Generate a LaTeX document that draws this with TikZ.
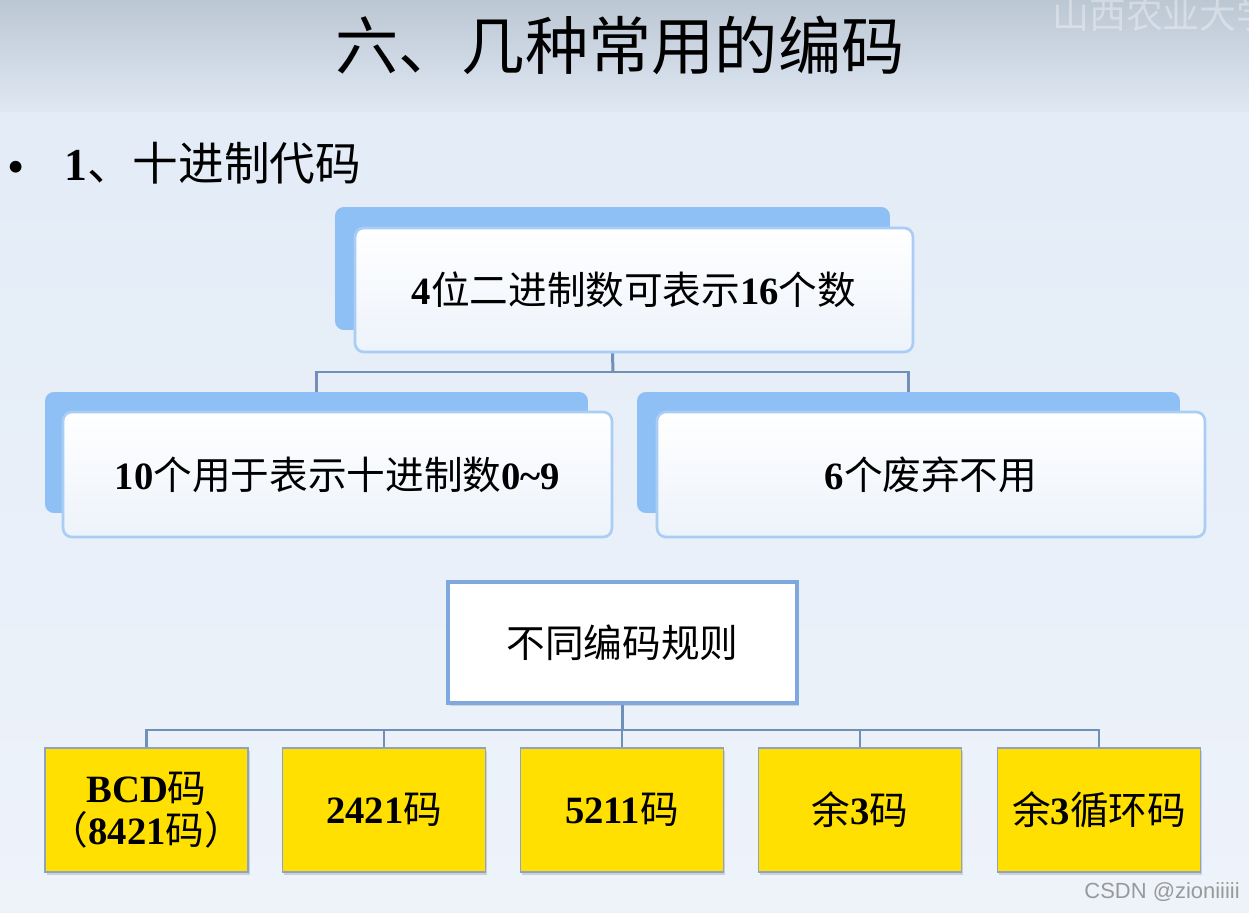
\documentclass[tikz,border=0pt]{standalone}
\usepackage{fontspec}
\setmainfont{Liberation Serif}
\setsansfont{Liberation Sans}
\newfontfamily\cjk{Noto Sans CJK SC}
\usetikzlibrary{shadows}

\definecolor{bgtop}{HTML}{BCC7D4}
\definecolor{bgmid}{HTML}{DFE8F3}
\definecolor{bgbody}{HTML}{E3ECF7}
\definecolor{bgfoot}{HTML}{EEF3FA}
\definecolor{backblue}{HTML}{8EC0F5}
\definecolor{frontedge}{HTML}{A9CDF5}
\definecolor{frontfill}{HTML}{EDF3FB}
\definecolor{linkblue}{HTML}{7090B8}
\definecolor{ruleedge}{HTML}{7FA8DC}
\definecolor{codeyellow}{HTML}{FFE000}
\definecolor{codeedge}{HTML}{8EA3C4}

% bold serif digits and latin letters
\newcommand\bnum[1]{{\rmfamily\bfseries #1}}

\tikzset{
  boxfont/.style={font=\cjk\fontsize{22}{24}\selectfont},
  backbox/.style={fill=backblue, rounded corners=5pt, inner sep=0pt},
  frontbox/.style={draw=frontedge, line width=1.5pt, top color=white, bottom color=frontfill,
    rounded corners=5pt, inner sep=0pt, boxfont},
  rulebox/.style={draw=ruleedge, line width=2.2pt, fill=white, inner sep=0pt,
    minimum width=6.98cm, minimum height=2.42cm, boxfont,
    drop shadow={shadow xshift=1pt, shadow yshift=-1.5pt, opacity=0.25}},
  codebox/.style={draw=codeedge, line width=1pt, fill=codeyellow, inner sep=0pt,
    minimum width=4.06cm, minimum height=2.48cm, align=center, boxfont,
    drop shadow={shadow xshift=1pt, shadow yshift=-1.5pt, opacity=0.3}},
  link/.style={draw=linkblue, line width=1.7pt},
}

\begin{document}
\begin{tikzpicture}[x=0.02cm, y=-0.02cm]
  \useasboundingbox (0,0) rectangle (1249,913);
  % slide background
  \shade[top color=bgtop, bottom color=bgmid] (0,0) rectangle (1249,112);
  \shade[top color=bgbody, bottom color=bgfoot] (0,112) rectangle (1249,913);
  \begin{scope}
    \clip (0,0) rectangle (1249,913);
    \node[anchor=west, text=white, opacity=0.35, font=\cjk\fontsize{21}{24}\selectfont]
      (school) at (1046,14) {山西农业大学};
  \end{scope}

  % title and heading
  \node[font=\cjk\fontsize{36}{40}\selectfont] (title) at (620,45) {六、几种常用的编码};
  \node[font=\rmfamily\fontsize{28}{30}\selectfont] (bullet) at (16,172) {•};
  \node[anchor=west, font=\cjk\fontsize{26}{28}\selectfont] (heading) at (58,163) {\bnum{1}、十进制代码};

  % first level: 16 numbers
  \node[backbox, minimum width=11.1cm, minimum height=2.46cm] (topback) at (612.5,268.5) {};
  \node[frontbox, minimum width=11.16cm, minimum height=2.48cm] (topfront) at (634,290)
    {\bnum{4}位二进制数可表示\bnum{16}个数};

  % second level
  \node[backbox, minimum width=10.86cm, minimum height=2.42cm] (leftback) at (316.5,452.5) {};
  \node[frontbox, minimum width=10.98cm, minimum height=2.5cm] (leftfront) at (337.5,474.5)
    {\bnum{10}个用于表示十进制数\bnum{0\textasciitilde 9}};
  \node[backbox, minimum width=10.86cm, minimum height=2.42cm] (rightback) at (908.5,452.5) {};
  \node[frontbox, minimum width=10.96cm, minimum height=2.5cm] (rightfront) at (931,474.5)
    {\bnum{6}个废弃不用};

  \coordinate (topbus) at (613,372);
  \draw[link] (topback.south |- topfront.south) -- (topbus);
  \draw[link] (topbus) -| (leftback.north);
  \draw[link] (topbus) -| (rightback.north);

  % coding rules
  \node[rulebox] (rules) at (622.5,642.5) {不同编码规则};

  \node[codebox] (code1) at (146.5,810) {\bnum{BCD}码\\（\bnum{8421}码）};
  \node[codebox] (code2) at (384,810) {\bnum{2421}码};
  \node[codebox] (code3) at (622,810) {\bnum{5211}码};
  \node[codebox] (code4) at (860,810) {余\bnum{3}码};
  \node[codebox] (code5) at (1099,810) {余\bnum{3}循环码};

  \coordinate (codebus) at (622.5,730);
  \draw[link] (rules.south) -- (codebus);
  \foreach \i in {1,...,5}
    \draw[link] (codebus) -| (code\i.north);

  % watermark
  \node[anchor=east, text=black!40, font=\sffamily\fontsize{12.5}{14}\selectfont] (csdn) at (1246,892)
    {CSDN @zioniiiii};
\end{tikzpicture}
\end{document}
